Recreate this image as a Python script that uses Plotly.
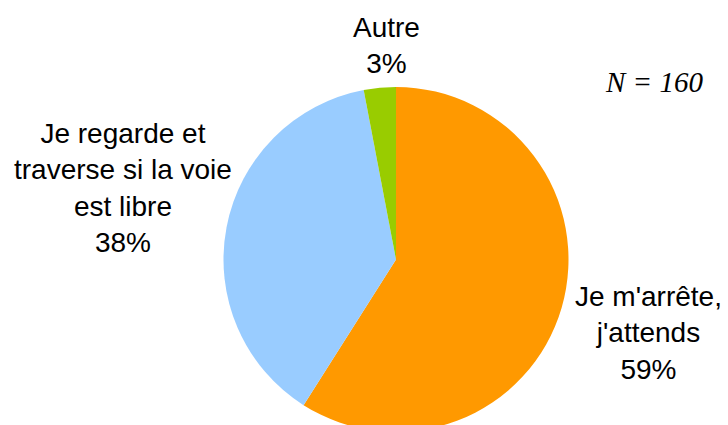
import plotly.graph_objects as go

# Répartition des réponses (N = 160)
labels = ["Je m'arrête,<br>j'attends", "Je regarde et<br>traverse si la voie<br>est libre", "Autre"]
values = [59, 38, 3]
colors = ["#FF9900", "#99CCFF", "#99CC00"]
sample_note = "N = 160"

W, H = 728, 440

def px_x(x):
    return x / W

def px_y(y):
    return 1 - y / H

# pie centre and radius in pixels
cx, cy, r = 396, 259.5, 172.5

fig = go.Figure(go.Pie(
    labels=labels,
    values=values,
    marker=dict(colors=colors, line=dict(width=0)),
    sort=False,
    direction="clockwise",
    rotation=0,
    textinfo="none",
    hoverinfo="label+percent",
    showlegend=False,
    domain=dict(x=[px_x(cx - r), px_x(cx + r)], y=[px_y(cy + r), px_y(cy - r)]),
))

# label positions (pixel centres of each text block)
label_pos = [(648, 333), (123, 188), (386, 46)]
for lab, val, (x, y) in zip(labels, values, label_pos):
    fig.add_annotation(
        x=px_x(x), y=px_y(y), xref="paper", yref="paper",
        text=f"{lab}<br>{val}%", showarrow=False,
        xanchor="center", yanchor="middle", align="center",
        font=dict(family="Liberation Sans, Arial", size=28, color="#000000"),
    )

fig.add_annotation(
    x=px_x(654), y=px_y(82), xref="paper", yref="paper",
    text=f"<i>{sample_note}</i>", showarrow=False,
    xanchor="center", yanchor="middle",
    font=dict(family="Liberation Serif, Times New Roman", size=29, color="#000000"),
)

fig.update_layout(
    width=W, height=H,
    margin=dict(l=0, r=0, t=0, b=0),
    paper_bgcolor="white",
    plot_bgcolor="white",
)

fig.write_html(
    "out.html",
    post_script="document.documentElement.style.overflow='hidden';"
                "document.body.style.overflow='hidden';document.body.style.margin='0';",
)
